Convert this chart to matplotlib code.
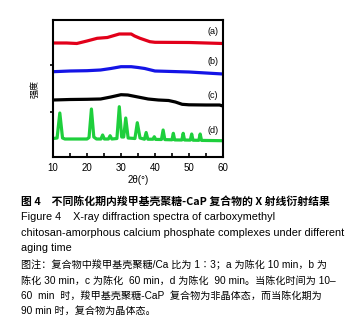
from matplotlib import pyplot as plt
from matplotlib.ticker import MultipleLocator

# 2θ (°) and intensity (a.u.)
x_a = [10, 14, 17, 20, 23, 26, 28, 29.5, 33, 34, 35.6, 38.5, 40, 45, 50, 55, 60]
y_a = [114, 114, 113.5, 116, 118.7, 119.5, 121.5, 123, 123, 121, 118.7, 115.3, 114.7, 114.6, 114.5, 114, 113.5]

x_b = [10, 15, 20, 24, 27, 30, 33, 35, 37, 40, 45, 50, 55, 60]
y_b = [85.3, 86, 86.3, 87, 88.5, 90.3, 90.3, 89.5, 88.5, 86, 85.5, 85, 84, 83]

x_c = [10, 15, 20, 24, 27, 30, 32, 35, 38, 41, 44, 46, 48, 50, 55, 59, 60]
y_c = [57, 57.5, 57.7, 58, 60, 62.3, 62, 60, 58, 57, 56.5, 55, 52.7, 52.2, 52, 52, 51]

x_d = [10, 11.2, 12, 12.8, 13.5, 20, 20.6, 21.3, 22, 22.8, 24.1, 24.6, 25.1, 26.3, 26.8, 27.3,
       28.8, 29.5, 30.2, 30.8, 31.4, 32.1, 34.1, 34.8, 35.6, 36.9, 37.4, 37.9, 39.4, 39.8, 40.2,
       41.9, 42.4, 42.9, 45.0, 45.4, 45.8, 47.9, 48.3, 48.7, 50.4, 50.8, 51.2, 52.9, 53.3, 53.7, 60]
y_d = [18.5, 19, 44, 19, 18, 18, 19.5, 48, 20, 18, 18, 22, 18, 18, 21.3, 18,
       18.5, 50.3, 20, 20, 39, 19, 18.5, 34.3, 19, 17.8, 24.5, 17.8, 17.8, 20.3, 17.6,
       17.5, 27, 17.4, 17.2, 23.7, 17.1, 17, 23.7, 17, 16.9, 23, 16.8, 16.7, 23, 16.6, 16.3]

labels = ['(a)', '(b)', '(c)', '(d)']
label_y = [125, 95, 62, 27]
colors = ['#e2001a', '#1414e6', '#000000', '#1ecf3c']

plt.rcParams['font.family'] = ['Liberation Sans', 'Noto Sans CJK SC']

fig = plt.figure(figsize=(3.57, 3.36), dpi=100)
ax = fig.add_axes([0.1485, 0.5327, 0.476, 0.4078])

for xs, ys, c in zip([x_a, x_b, x_c, x_d], [y_a, y_b, y_c, y_d], colors):
    ax.plot(xs, ys, color=c, lw=2.3, solid_joinstyle='round')

for lab, yy in zip(labels, label_y):
    ax.text(58.6, yy, lab, fontsize=6.5, ha='right', va='center')

ax.set_xlim(10, 60)
ax.set_ylim(0, 137)
ax.xaxis.set_major_locator(MultipleLocator(10))
ax.xaxis.set_minor_locator(MultipleLocator(5))
ax.tick_params(axis='x', which='both', direction='in', length=3, width=1.2, labelsize=7, pad=4)
ax.set_yticks([45, 92])
ax.set_yticklabels([])
ax.tick_params(axis='y', direction='out', length=2.5, width=1.2)
for s in ax.spines.values():
    s.set_linewidth(1.5)
ax.set_xlabel('2θ(°)', fontsize=7, labelpad=2)
ax.set_ylabel('强度', fontsize=6.5, labelpad=4, family=['Noto Sans CJK SC'])

caption = [
    ('图 4　不同陈化期内羧甲基壳聚糖-CaP 复合物的 X 射线衍射结果', 201.7, 'bold'),
    ('Figure 4    X-ray diffraction spectra of carboxymethyl', 217, 'normal'),
    ('chitosan-amorphous calcium phosphate complexes under different', 233, 'normal'),
    ('aging time', 248, 'normal'),
    ('图注：复合物中羧甲基壳聚糖/Ca 比为 1∶3；a 为陈化 10 min，b 为', 265, 'normal'),
    ('陈化 30 min，c 为陈化  60 min，d 为陈化  90 min。当陈化时间为 10–', 281, 'normal'),
    ('60  min  时，羧甲基壳聚糖-CaP  复合物为非晶体态，而当陈化期为', 296, 'normal'),
    ('90 min 时，复合物为晶体态。', 311, 'normal'),
]
for txt, ypix, w in caption:
    if w == 'bold':
        size, fam = 7.8, ['Noto Sans CJK SC']
    elif txt.startswith(('Figure', 'chitosan', 'aging')):
        size, fam = 7.85, ['Liberation Sans']
    else:
        size, fam = 7.25, ['Liberation Sans', 'Noto Sans CJK SC']
    fig.text(21 / 357, 1 - ypix / 336, txt, fontsize=size, fontweight=w,
             ha='left', va='center', family=fam)

fig.savefig('out.png', dpi=100)
